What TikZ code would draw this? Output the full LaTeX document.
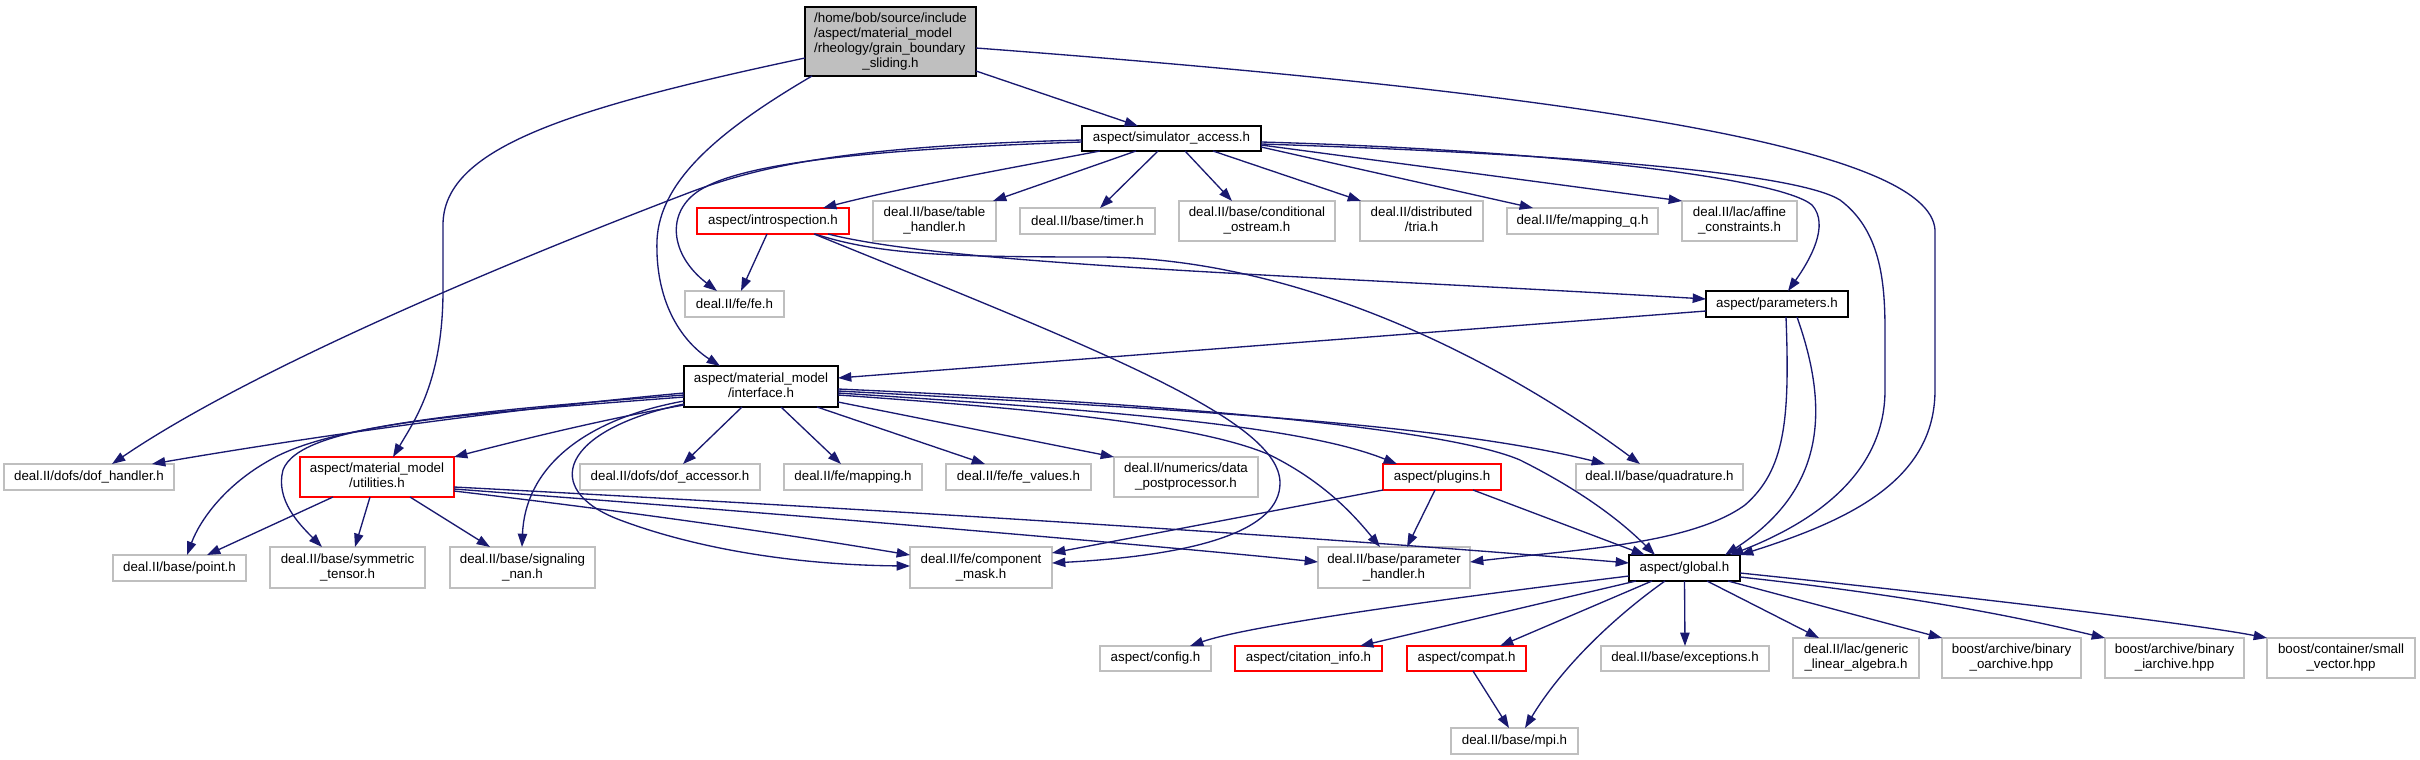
\documentclass[tikz,border=0pt]{standalone}
\usepackage{fontspec}
\setmainfont{Liberation Sans}
\usetikzlibrary{arrows.meta}
\definecolor{edgec}{HTML}{191970}
\definecolor{greyc}{HTML}{BFBFBF}
\definecolor{redc}{HTML}{FF0000}
\newcommand\mlt[2]{\begin{tabular}{@{}l@{}}#1\\\multicolumn{1}{@{}c@{}}{#2}\end{tabular}}
\newcommand\mybox[7]{\node[#6, minimum width={0.75pt*(#4-#2)}, minimum height={0.75pt*(#5-#3)}] (#1) at ({(#2+#4)/2},{(#3+#5)/2}) {#7};}
\tikzset{
 nbase/.style={draw, line width=1pt, inner sep=0pt, outer sep=0pt, font=\fontsize{10}{11.25}\selectfont, fill=white},
 grayn/.style={nbase, draw=greyc},
 redn/.style={nbase, draw=redc},
 docn/.style={nbase, draw=black},
 rootn/.style={nbase, draw=black, fill=greyc},
 dep/.style={draw=edgec, line width=1pt, -{Triangle[length=10pt,width=7pt]}},
}
\begin{document}
\begin{tikzpicture}[x=0.75pt,y=-0.75pt]
\useasboundingbox (0,0) rectangle (2420,760);
\mybox{root}{805}{7}{976}{76}{rootn}{\mlt{/home/bob/source/include\\/aspect/material\_model\\/rheology/grain\_boundary}{\_sliding.h}}
\mybox{sim}{1082}{126}{1261}{151}{docn}{aspect/simulator\_access.h}
\mybox{intro}{697}{208}{849}{234}{redn}{aspect/introspection.h}
\mybox{table}{873}{201}{996}{241}{grayn}{\mlt{deal.II/base/table}{\_handler.h}}
\mybox{timer}{1020}{208}{1155}{234}{grayn}{deal.II/base/timer.h}
\mybox{condo}{1179}{201}{1335}{241}{grayn}{\mlt{deal.II/base/conditional}{\_ostream.h}}
\mybox{tria}{1360}{201}{1483}{241}{grayn}{\mlt{deal.II/distributed}{/tria.h}}
\mybox{mapq}{1507}{208}{1658}{234}{grayn}{deal.II/fe/mapping\_q.h}
\mybox{affine}{1682}{201}{1797}{241}{grayn}{\mlt{deal.II/lac/affine}{\_constraints.h}}
\mybox{fefe}{685}{291}{784}{317}{grayn}{deal.II/fe/fe.h}
\mybox{params}{1706}{291}{1848}{317}{docn}{aspect/parameters.h}
\mybox{iface}{684}{366}{838}{407}{docn}{\mlt{aspect/material\_model}{/interface.h}}
\mybox{dofh}{4}{464}{174}{490}{grayn}{deal.II/dofs/dof\_handler.h}
\mybox{util}{300}{457}{454}{497}{redn}{\mlt{aspect/material\_model}{/utilities.h}}
\mybox{dofacc}{580}{464}{760}{490}{grayn}{deal.II/dofs/dof\_accessor.h}
\mybox{mapping}{784}{464}{922}{490}{grayn}{deal.II/fe/mapping.h}
\mybox{fevals}{946}{464}{1091}{490}{grayn}{deal.II/fe/fe\_values.h}
\mybox{datapp}{1114}{457}{1258}{497}{grayn}{\mlt{deal.II/numerics/data}{\_postprocessor.h}}
\mybox{plugins}{1383}{464}{1501}{490}{redn}{aspect/plugins.h}
\mybox{quad}{1576}{464}{1743}{490}{grayn}{deal.II/base/quadrature.h}
\mybox{point}{113}{555}{246}{581}{grayn}{deal.II/base/point.h}
\mybox{symt}{270}{547}{425}{588}{grayn}{\mlt{deal.II/base/symmetric}{\_tensor.h}}
\mybox{snan}{450}{547}{595}{588}{grayn}{\mlt{deal.II/base/signaling}{\_nan.h}}
\mybox{cmask}{910}{547}{1052}{588}{grayn}{\mlt{deal.II/fe/component}{\_mask.h}}
\mybox{parh}{1318}{547}{1470}{588}{grayn}{\mlt{deal.II/base/parameter}{\_handler.h}}
\mybox{global}{1629}{555}{1740}{581}{docn}{aspect/global.h}
\mybox{config}{1100}{646}{1211}{671}{grayn}{aspect/config.h}
\mybox{citation}{1235}{646}{1382}{671}{redn}{aspect/citation\_info.h}
\mybox{compat}{1407}{646}{1526}{671}{redn}{aspect/compat.h}
\mybox{except}{1601}{646}{1769}{671}{grayn}{deal.II/base/exceptions.h}
\mybox{gla}{1793}{638}{1919}{678}{grayn}{\mlt{deal.II/lac/generic}{\_linear\_algebra.h}}
\mybox{boa}{1942}{638}{2081}{678}{grayn}{\mlt{boost/archive/binary}{\_oarchive.hpp}}
\mybox{bia}{2105}{638}{2244}{678}{grayn}{\mlt{boost/archive/binary}{\_iarchive.hpp}}
\mybox{svec}{2267}{638}{2415}{678}{grayn}{\mlt{boost/container/small}{\_vector.hpp}}
\mybox{mpi}{1451}{728}{1578}{754}{grayn}{deal.II/base/mpi.h}
% root
\draw[dep] (root.east |- 0,71) -- (1138,0 |- sim.north);
\draw[dep] (812,0 |- root.south) .. controls (720,130) and (660,180) .. (657,240) .. controls (655,300) and (680,340) .. (720,0 |- iface.north);
\draw[dep] (root.west |- 0,58) .. controls (560,110) and (443,150) .. (443,225) -- (443,290) .. controls (443,380) and (415,420) .. (393,0 |- util.north);
\draw[dep] (root.east |- 0,48) .. controls (1600,95) and (1930,150) .. (1935,230) -- (1935,390) .. controls (1935,480) and (1850,520) .. (global.north east);
% simulator access
\draw[dep] (1100,0 |- sim.south) .. controls (1000,170) and (900,188) .. (823,0 |- intro.north);
\draw[dep] (1136,0 |- sim.south) -- (993,0 |- table.north);
\draw[dep] (1158,0 |- sim.south) -- (1100,0 |- timer.north);
\draw[dep] (1185,0 |- sim.south) -- (1232,0 |- condo.north);
\draw[dep] (1213,0 |- sim.south) -- (1361,0 |- tria.north);
\draw[dep] (sim.east |- 0,147) -- (1533,0 |- mapq.north);
\draw[dep] (sim.east |- 0,145) -- (affine.north west);
\draw[dep] (sim.west |- 0,142) .. controls (850,150) and (740,165) .. (700,190) .. controls (665,212) and (670,255) .. (717,0 |- fefe.north);
\draw[dep] (sim.west |- 0,140) .. controls (850,146) and (760,165) .. (683,195) .. controls (500,265) and (250,370) .. (112,0 |- dofh.north);
\draw[dep] (sim.east |- 0,142) .. controls (1550,150) and (1780,178) .. (1812,205) .. controls (1830,225) and (1810,260) .. (1788,0 |- params.north);
\draw[dep] (sim.east |- 0,144) .. controls (1600,155) and (1800,175) .. (1840,200) .. controls (1880,230) and (1885,280) .. (1885,330) -- (1885,390) .. controls (1885,470) and (1820,520) .. (1730,0 |- global.north);
% introspection
\draw[dep] (767,0 |- intro.south) -- (741,0 |- fefe.north);
\draw[dep] (814,0 |- intro.south) .. controls (1100,350) and (1280,420) .. (1280,483) .. controls (1280,530) and (1200,555) .. (cmask.east |- 0,563);
\draw[dep] (815,0 |- intro.south) .. controls (880,255) and (950,257) .. (1100,257) .. controls (1300,258) and (1500,360) .. (1640,0 |- quad.north);
\draw[dep] (828,0 |- intro.south) .. controls (950,265) and (1300,275) .. (params.west |- 0,299);
% parameters
\draw[dep] (params.west |- 0,311) -- (iface.east |- 0,378);
\draw[dep] (1786,0 |- params.south) .. controls (1790,420) and (1785,470) .. (1745,505) .. controls (1690,545) and (1570,550) .. (parh.east |- 0,562);
\draw[dep] (1797,0 |- params.south) .. controls (1830,410) and (1825,490) .. (1725,0 |- global.north);
% interface
\draw[dep] (iface.west |- 0,393) .. controls (550,405) and (350,430) .. (152,0 |- dofh.north);
\draw[dep] (iface.west |- 0,395) .. controls (480,410) and (330,425) .. (270,460) .. controls (225,485) and (200,520) .. (187,0 |- point.north);
\draw[dep] (iface.west |- 0,397) .. controls (450,415) and (300,425) .. (283,470) .. controls (275,500) and (300,525) .. (322,0 |- symt.north);
\draw[dep] (iface.west |- 0,405) .. controls (600,420) and (520,440) .. (util.north east);
\draw[dep] (iface.west |- 0,401) .. controls (580,420) and (525,470) .. (522,0 |- snan.north);
\draw[dep] (iface.west |- 0,404) .. controls (560,430) and (540,490) .. (620,520) .. controls (700,550) and (800,565) .. (cmask.west |- 0,566);
\draw[dep] (742,0 |- iface.south) -- (683,0 |- dofacc.north);
\draw[dep] (781,0 |- iface.south) -- (841,0 |- mapping.north);
\draw[dep] (817,0 |- iface.south) -- (985,0 |- fevals.north);
\draw[dep] (iface.east |- 0,402) -- (datapp.north west);
\draw[dep] (iface.east |- 0,393) .. controls (1100,410) and (1300,425) .. (1397,0 |- plugins.north);
\draw[dep] (iface.east |- 0,391) .. controls (1200,410) and (1450,425) .. (1605,0 |- quad.north);
\draw[dep] (iface.east |- 0,389) .. controls (1200,405) and (1450,430) .. (1520,460) .. controls (1580,490) and (1620,520) .. (1655,0 |- global.north);
\draw[dep] (iface.east |- 0,395) .. controls (1050,410) and (1200,425) .. (1270,455) .. controls (1320,480) and (1350,510) .. (1380,0 |- parh.north);
% utilities
\draw[dep] (333,0 |- util.south) -- (207,0 |- point.north);
\draw[dep] (370,0 |- util.south) -- (355,0 |- symt.north);
\draw[dep] (410,0 |- util.south) -- (490,0 |- snan.north);
\draw[dep] (util.east |- 0,491) .. controls (700,520) and (850,545) .. (cmask.west |- 0,555);
\draw[dep] (util.east |- 0,489) .. controls (800,515) and (1150,545) .. (parh.west |- 0,562);
\draw[dep] (util.east |- 0,487) .. controls (800,505) and (1300,535) .. (global.west |- 0,563);
% plugins
\draw[dep] (plugins.south west) -- (cmask.east |- 0,553);
\draw[dep] (1435,0 |- plugins.south) -- (1407,0 |- parh.north);
\draw[dep] (1473,0 |- plugins.south) -- (1645,0 |- global.north);
% global
\draw[dep] (global.west |- 0,576) .. controls (1450,598) and (1250,625) .. (1190,0 |- config.north);
\draw[dep] (1636,0 |- global.south) -- (1360,0 |- citation.north);
\draw[dep] (1652,0 |- global.south) -- (1500,0 |- compat.north);
\draw[dep] (1665,0 |- global.south) .. controls (1610,620) and (1560,670) .. (1525,0 |- mpi.north);
\draw[dep] (global.south) -- (except.north);
\draw[dep] (1707,0 |- global.south) -- (1819,0 |- gla.north);
\draw[dep] (1728,0 |- global.south) -- (boa.north west);
\draw[dep] (global.east |- 0,577) .. controls (1950,600) and (2050,625) .. (bia.north west);
\draw[dep] (global.east |- 0,573) .. controls (2000,600) and (2200,625) .. (svec.north west);
% compat
\draw[dep] (1473,0 |- compat.south) -- (1509,0 |- mpi.north);
\end{tikzpicture}
\end{document}
